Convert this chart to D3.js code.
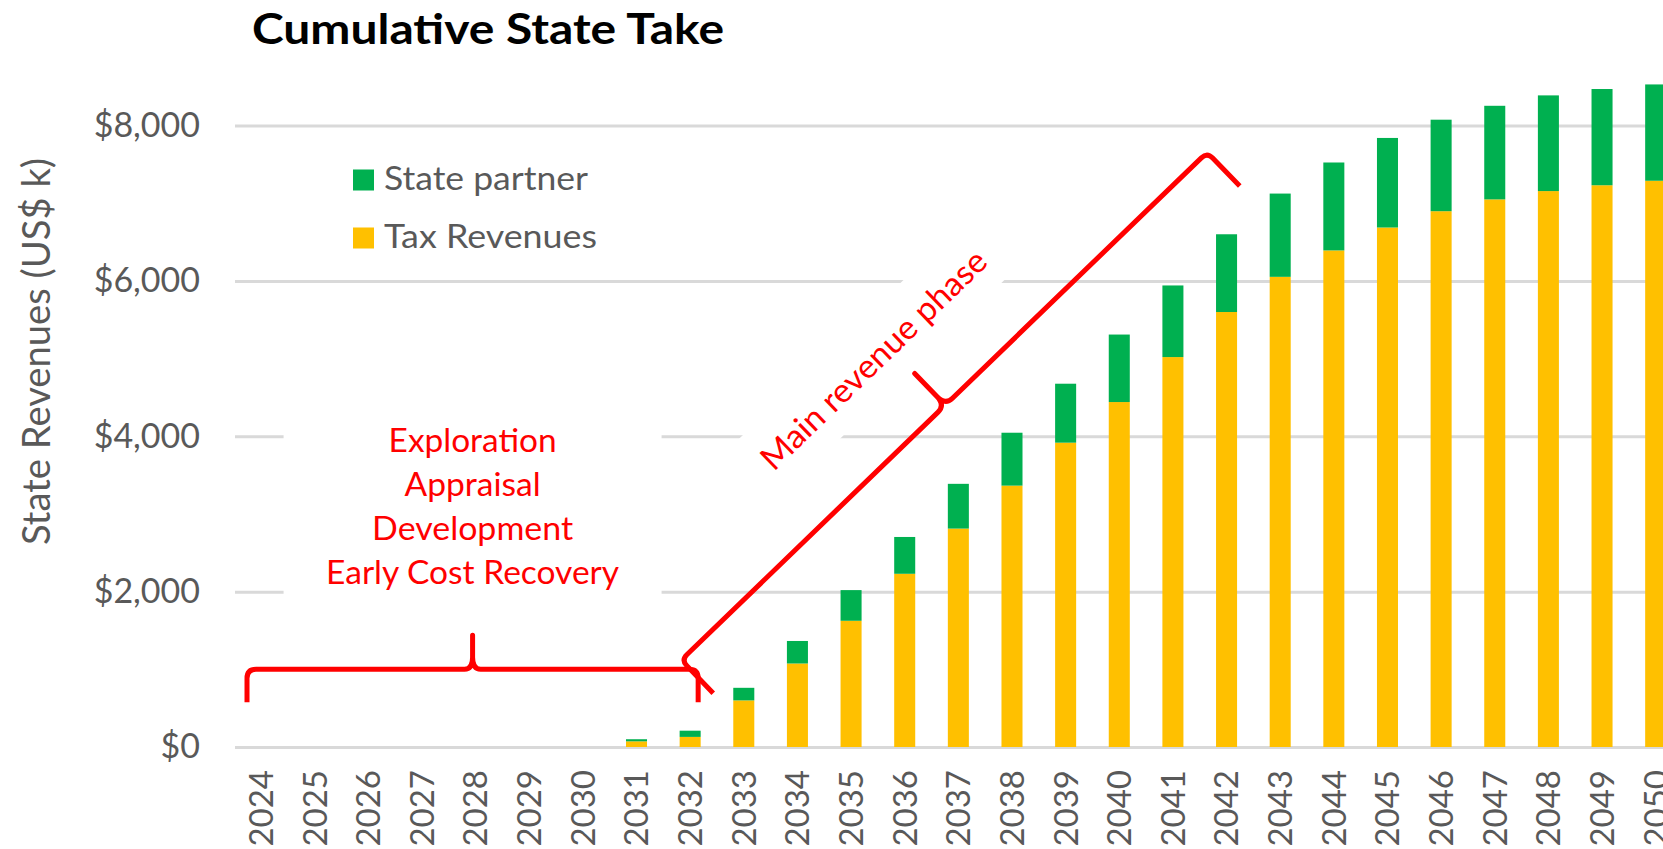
<!DOCTYPE html>
<html><head><meta charset="utf-8">
<script src="https://cdn.jsdelivr.net/npm/d3@7"></script>
<style>html,body{margin:0;padding:0;background:#fff;overflow:hidden}</style>
</head><body>
<svg id="c" width="1663" height="849"></svg>
<script>
// ---------- data ----------
const years = ["2024","2025","2026","2027","2028","2029","2030","2031","2032","2033","2034","2035","2036","2037","2038","2039","2040","2041","2042","2043","2044","2045","2046","2047","2048","2049","2050"];
const taxRevenues  = [0,0,0,0,0,0,0,73,130,600,1075,1625,2230,2812,3365,3918,4441,5020,5600,6053,6393,6688,6898,7050,7157,7232,7290];
const statePartner = [0,0,0,0,0,0,0,27,80,162,290,395,474,576,681,759,869,922,1001,1072,1132,1153,1178,1205,1232,1239,1240];
const yTicks = [0,2000,4000,6000,8000];
const seriesNames = ["State partner","Tax Revenues"];
const chartTitle = "Cumulative State Take";
const yTitle = "State Revenues (US$ k)";
const phaseLines = ["Exploration","Appraisal","Development","Early Cost Recovery"];
const phaseLabel = "Main revenue phase";

// ---------- setup ----------
const W = 1663, H = 849;
const svg = d3.select("#c");
const grey = "#595959", red = "#FF0000";
const colors = {tax:"#FFC000", partner:"#00B050"};
const calib = "Lato, 'Open Sans', sans-serif";

const x = d3.scaleBand().domain(years).range([234.2, 1682.5]).paddingInner(0.608).paddingOuter(0.304);
const y = d3.scaleLinear().domain([0, 8000]).range([747, 125.6]);
const xc = i => x(years[0]) + x.bandwidth()/2 + i * x.step();

// ---------- y axis + gridlines ----------
const plotLeft = 235;
const yAxis = svg.append("g").attr("transform", `translate(${plotLeft},0)`)
  .call(d3.axisLeft(y).tickValues(yTicks).tickFormat(d => "$" + d3.format(",")(d))
    .tickSizeInner(-(W - plotLeft)).tickSizeOuter(0).tickPadding(35));
yAxis.select(".domain").remove();
yAxis.selectAll(".tick line").attr("stroke", "#d9d9d9").attr("stroke-width", 3);
yAxis.selectAll(".tick text").attr("fill", grey).style("font-family", calib).style("font-size", "34px");

// ---------- white text boxes hiding gridlines ----------
const bL = x(years[0]) - 3.5, bR = x(years[8]) + x.bandwidth() - 2.5, bY = y(1000);
const bMid = (bL + bR) / 2;
svg.append("rect").attr("x", bMid - 189).attr("y", 412).attr("width", 378).attr("height", 190).attr("fill", "#fff");

const C = [xc(11.4), y(5000)];
const rot = svg.append("g").attr("transform", `translate(${C[0]},${C[1]}) rotate(-44)`);
rot.append("rect").attr("x", -160).attr("y", -35).attr("width", 320).attr("height", 70).attr("fill", "#fff");

// ---------- bars ----------
const table = years.map((yr, i) => ({year: yr, tax: taxRevenues[i], partner: statePartner[i]}));
const stacked = d3.stack().keys(["tax", "partner"])(table);
svg.append("g").selectAll("g").data(stacked).join("g").attr("fill", d => colors[d.key])
  .selectAll("rect").data(d => d).join("rect")
  .attr("x", d => x(d.data.year)).attr("width", x.bandwidth())
  .attr("y", d => y(d[1])).attr("height", d => y(d[0]) - y(d[1]));

// ---------- x axis labels ----------
const xAxis = svg.append("g").attr("transform", `translate(0,${y(0)})`)
  .call(d3.axisBottom(x).tickSize(0));
xAxis.select(".domain").remove();
xAxis.selectAll(".tick text")
  .attr("transform", "rotate(-90)").attr("text-anchor", "end")
  .attr("x", -23).attr("y", 0).attr("dy", "0.36em")
  .attr("fill", grey).style("font-family", calib).style("font-size", "33px");

// ---------- title ----------
svg.append("text").attr("x", 252).attr("y", 43.5).text(chartTitle)
  .style("font-family", calib).style("font-weight", "700").style("font-size", "42px")
  .attr("fill", "#000").attr("textLength", 472).attr("lengthAdjust", "spacingAndGlyphs");

// ---------- y title ----------
svg.append("text").attr("transform", "translate(50,351.5) rotate(-90)").attr("text-anchor", "middle")
  .text(yTitle).attr("fill", grey).style("font-family", calib).style("font-size", "39px")
  .attr("textLength", 387).attr("lengthAdjust", "spacingAndGlyphs");

// ---------- legend ----------
const legKeys = ["partner", "tax"], legW = [204, 213];
const leg = svg.append("g").selectAll("g").data(seriesNames).join("g")
  .attr("transform", (d, i) => `translate(353,${169.5 + i * 58})`);
leg.append("rect").attr("width", 21).attr("height", 21).attr("fill", (d, i) => colors[legKeys[i]]);
leg.append("text").attr("x", 31).attr("y", 20).text(d => d).attr("fill", grey)
  .style("font-family", calib).style("font-size", "32px")
  .attr("textLength", (d, i) => legW[i]).attr("lengthAdjust", "spacingAndGlyphs");

// ---------- phase annotation (bottom) ----------
const phaseW = [168, 136, 201, 293];
svg.append("g").selectAll("text").data(phaseLines).join("text")
  .attr("x", bMid).attr("y", (d, i) => 452 + i * 44).attr("text-anchor", "middle")
  .text(d => d).attr("fill", red).style("font-family", calib).style("font-size", "33px")
  .attr("textLength", (d, i) => phaseW[i]).attr("lengthAdjust", "spacingAndGlyphs");

const cusp = 34, endD = 33, r = 9;
svg.append("path").attr("fill", "none").attr("stroke", red).attr("stroke-width", 5)
  .attr("stroke-linejoin", "round").attr("stroke-linecap", "butt")
  .attr("d", `M${bL},${bY + endD} L${bL},${bY + r} Q${bL},${bY} ${bL + r},${bY} L${bMid - 8},${bY}
    Q${bMid},${bY} ${bMid},${bY - 12} L${bMid},${bY - cusp} L${bMid},${bY - 12} Q${bMid},${bY} ${bMid + 8},${bY}
    L${bR - r},${bY} Q${bR},${bY} ${bR},${bY + r} L${bR},${bY + endD}`);

// ---------- main revenue phase annotation ----------
rot.append("text").attr("x", 0).attr("y", 0).attr("text-anchor", "middle").attr("dominant-baseline", "central")
  .text(phaseLabel).attr("fill", red).style("font-family", calib).style("font-size", "33px")
  .attr("textLength", 300).attr("lengthAdjust", "spacingAndGlyphs");
const v = 84;
rot.append("path").attr("fill", "none").attr("stroke", red).attr("stroke-width", 5)
  .attr("stroke-linejoin", "round")
  .attr("d", `M-347,130 L-347,${v + 8} Q-347,${v} -339,${v} L10,${v} Q20,${v} 20,${v - 12} L20,${v - 44}
    L20,${v - 12} Q20,${v} 30,${v} L376,${v} Q384,${v} 384,${v + 8} L384,131`);
</script>
</body></html>
